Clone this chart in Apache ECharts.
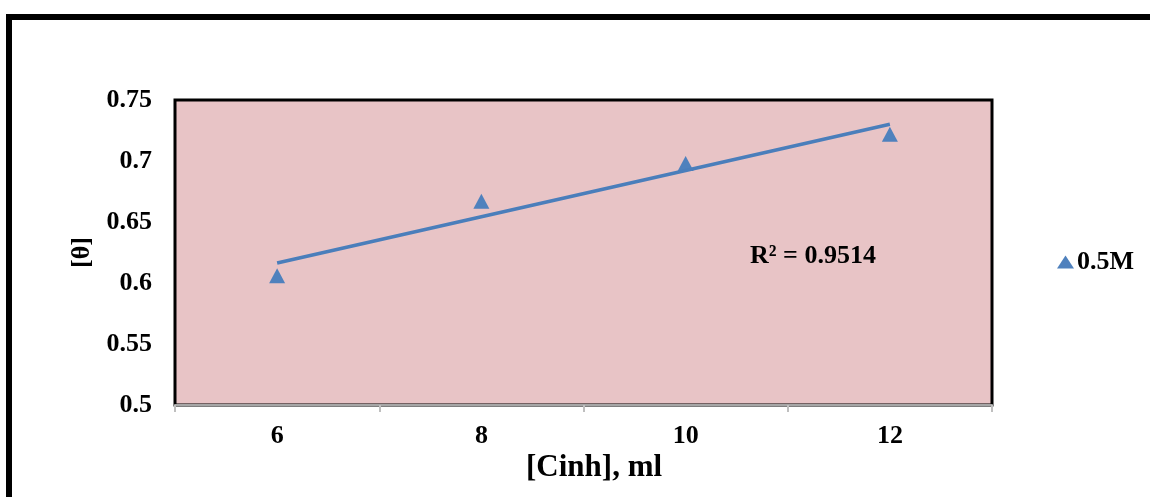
<!DOCTYPE html>
<html>
<head>
<meta charset="utf-8">
<script src="https://cdn.jsdelivr.net/npm/echarts@6/dist/echarts.min.js"></script>
<style>
html,body{margin:0;padding:0;background:#fff;}
#chart{width:1150px;height:497px;}
</style>
</head>
<body>
<div id="chart"></div>
<script>
// Data
var categories = ['6', '8', '10', '12'];
var xValues = [6, 8, 10, 12];
var theta = [0.606, 0.667, 0.698, 0.722];
var seriesName = '0.5M';
var yTicks = { min: 0.5, max: 0.75, interval: 0.05 };
var r2Label = 'R² = 0.9514';
var xTitle = '[Cinh], ml';
var yTitle = '[θ]';

// linear trendline (least squares) from the data
var n = xValues.length, mx = 0, my = 0;
for (var i = 0; i < n; i++) { mx += xValues[i]; my += theta[i]; }
mx /= n; my /= n;
var sxy = 0, sxx = 0;
for (var i = 0; i < n; i++) { sxy += (xValues[i] - mx) * (theta[i] - my); sxx += (xValues[i] - mx) * (xValues[i] - mx); }
var slope = sxy / sxx, intercept = my - slope * mx;
var trend = xValues.map(function (x) { return intercept + slope * x; });

var font = '"Liberation Serif", "Times New Roman", serif';
var chart = echarts.init(document.getElementById('chart'), null, { renderer: 'canvas' });
chart.setOption({
  animation: false,
  backgroundColor: '#ffffff',
  graphic: [
    { type: 'rect', shape: { x: 9, y: 17, width: 1300, height: 700 }, style: { fill: null, stroke: '#000', lineWidth: 6 }, z: 100 },
    { type: 'text', left: 750, top: 243, style: { text: r2Label, font: 'bold 26px ' + font, fill: '#000' }, z: 100 },
    { type: 'text', left: 526, top: 452, style: { text: xTitle, font: 'bold 31px ' + font, fill: '#000' }, z: 100 }
  ],
  grid: {
    left: 175, top: 100, width: 817, height: 305,
    show: true, backgroundColor: '#e8c4c6', borderColor: '#000', borderWidth: 3
  },
  legend: {
    data: [{ name: seriesName, icon: 'triangle' }],
    left: 1052, top: 244, itemWidth: 17, itemHeight: 13, itemGap: 4,
    textStyle: { fontFamily: font, fontWeight: 'bold', fontSize: 26, color: '#000', padding: [0, 0, 0, -2] }
  },
  xAxis: {
    type: 'category', data: categories, boundaryGap: true,
    axisLine: { show: true, onZero: false, lineStyle: { color: '#a6a6a6', width: 2 } },
    axisTick: { show: true, alignWithLabel: false, length: 7, lineStyle: { color: '#bfbfbf', width: 2 } },
    axisLabel: { margin: 18, fontFamily: font, fontWeight: 'bold', fontSize: 26, color: '#000' },
    splitLine: { show: false }
  },
  yAxis: {
    type: 'value', min: yTicks.min, max: yTicks.max, interval: yTicks.interval,
    name: yTitle, nameLocation: 'middle', nameGap: 75, nameRotate: 90,
    nameTextStyle: { fontFamily: font, fontWeight: 'bold', fontSize: 26, color: '#000' },
    axisLine: { show: false }, axisTick: { show: false },
    axisLabel: { margin: 23, fontFamily: font, fontWeight: 'bold', fontSize: 26, color: '#000',
      formatter: function (v) { return String(parseFloat(v.toFixed(2))); } },
    splitLine: { show: false }
  },
  series: [
    { name: 'trend', type: 'line', data: trend, symbol: 'none', lineStyle: { color: '#4a7ebb', width: 3.5 }, z: 3 },
    { name: seriesName, type: 'scatter', data: theta, symbol: 'triangle', symbolSize: [16, 15],
      itemStyle: { color: '#4f81bd', opacity: 1 }, z: 2 }
  ]
});
</script>
</body>
</html>
